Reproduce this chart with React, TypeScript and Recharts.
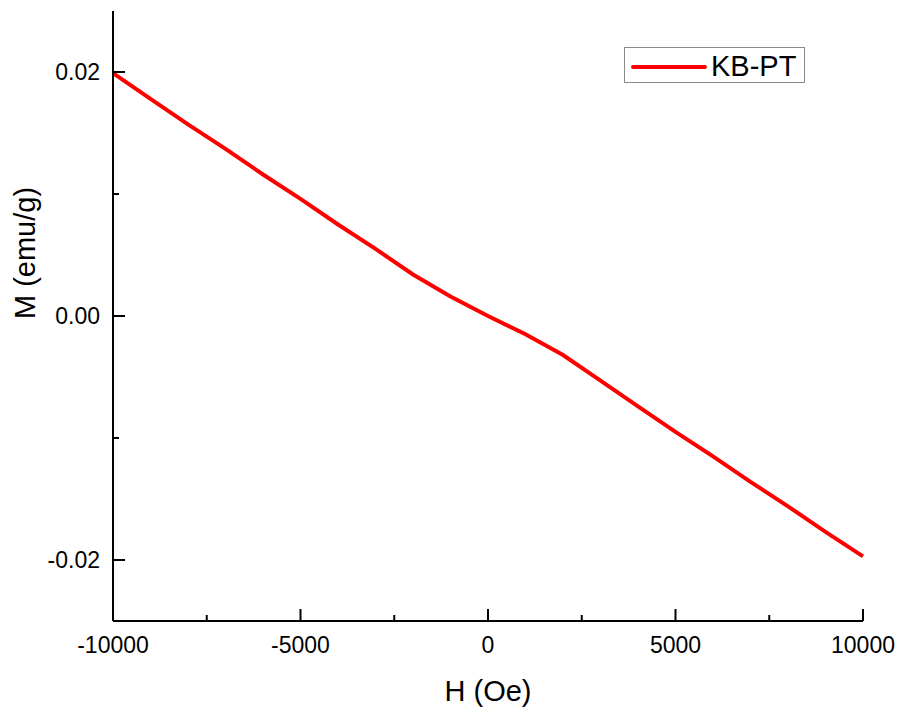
import { LineChart, Line, XAxis, YAxis, Label } from 'recharts';

// magnetisation loop, H in Oe, M in emu/g
const fieldH = [
  -10000, -9000, -8000, -7000, -6000, -5000, -4000, -3000, -2000, -1000, 0,
  1000, 2000, 3000, 4000, 5000, 6000, 7000, 8000, 9000, 10000,
];
const momentM = [
  0.0199, 0.0178, 0.0157, 0.0137, 0.0116, 0.0096, 0.0075, 0.0055, 0.0034, 0.0016, 0.0,
  -0.0015, -0.0032, -0.0053, -0.0074, -0.0095, -0.0115, -0.0136, -0.0156, -0.0177, -0.0197,
];
const xTicks = [-10000, -7500, -5000, -2500, 0, 2500, 5000, 7500, 10000];
const yTicks = [-0.02, -0.01, 0, 0.01, 0.02];

const seriesName = 'KB-PT';
const font = 'Arial, "Liberation Sans", sans-serif';

const W = 904;
const H = 712;
const PLOT_LEFT = 113;
const PLOT_TOP = 11;
const PLOT_RIGHT = 863;
const PLOT_BOTTOM = 621;

const data = fieldH.map((h, i) => ({ h, m: momentM[i] }));

function XTick(props: any) {
  const { x, payload } = props;
  const major = payload.value % 5000 === 0;
  const y = PLOT_BOTTOM;
  return (
    <g>
      <line x1={x} x2={x} y1={y} y2={y - (major ? 12 : 6)} stroke="#000" strokeWidth={2} />
      {major && (
        <text x={x} y={y + 32} textAnchor="middle" fontSize={23} fontFamily={font} fill="#000">
          {payload.value}
        </text>
      )}
    </g>
  );
}

function YTick(props: any) {
  const { y, payload } = props;
  const major = Math.round(payload.value * 100) % 2 === 0;
  const x = PLOT_LEFT;
  return (
    <g>
      <line x1={x} x2={x + (major ? 12 : 6)} y1={y} y2={y} stroke="#000" strokeWidth={2} />
      {major && (
        <text x={x - 13} y={y + 8} textAnchor="end" fontSize={23} fontFamily={font} fill="#000">
          {payload.value.toFixed(2)}
        </text>
      )}
    </g>
  );
}

function LegendBox() {
  return (
    <div
      style={{
        position: 'absolute',
        left: 624,
        top: 47,
        width: 179,
        height: 34,
        border: '1px solid #8a8a8a',
        background: '#fff',
        display: 'flex',
        alignItems: 'center',
        fontFamily: font,
      }}
    >
      <svg width={86} height={34}>
        <line x1={8} x2={80} y1={19} y2={19} stroke="#ff0000" strokeWidth={4} strokeLinecap="round" />
      </svg>
      <span style={{ fontSize: 29, lineHeight: '34px', marginTop: 2 }}>{seriesName}</span>
    </div>
  );
}

export default function App() {
  return (
    <div style={{ position: 'absolute', left: 0, top: 0, width: W, height: H, background: '#fff' }}>
      <LineChart
        width={W}
        height={H}
        data={data}
        margin={{ top: PLOT_TOP, right: W - PLOT_RIGHT, left: 0, bottom: 0 }}
      >
        <XAxis
          xAxisId="b"
          dataKey="h"
          type="number"
          domain={[-10000, 10000]}
          ticks={xTicks}
          height={H - PLOT_BOTTOM}
          tickSize={0}
          tickMargin={0}
          tickLine={false}
          tick={<XTick />}
          axisLine={{ stroke: '#000', strokeWidth: 2 }}
          interval={0}
        >
          <Label
            content={() => (
              <text x={(PLOT_LEFT + PLOT_RIGHT) / 2} y={701} textAnchor="middle" fontSize={29} fontFamily={font} fill="#000">
                H (Oe)
              </text>
            )}
          />
        </XAxis>
        <XAxis xAxisId="t" dataKey="h" type="number" domain={[-10000, 10000]} orientation="top" height={0} tick={false} tickLine={false} axisLine={{ stroke: '#000', strokeWidth: 2 }} />
        <YAxis
          yAxisId="l"
          type="number"
          domain={[-0.025, 0.025]}
          ticks={yTicks}
          width={PLOT_LEFT}
          tickSize={0}
          tickMargin={0}
          tickLine={false}
          tick={<YTick />}
          axisLine={{ stroke: '#000', strokeWidth: 2 }}
          interval={0}
        >
          <Label
            content={() => (
              <text
                x={35}
                y={253}
                transform="rotate(-90, 35, 253)"
                textAnchor="middle"
                fontSize={29}
                fontFamily={font}
                fill="#000"
              >
                M (emu/g)
              </text>
            )}
          />
        </YAxis>
        <YAxis yAxisId="r" type="number" domain={[-0.025, 0.025]} orientation="right" width={0} tick={false} tickLine={false} axisLine={{ stroke: '#000', strokeWidth: 2 }} />
        <Line
          xAxisId="b"
          yAxisId="l"
          dataKey="m"
          name={seriesName}
          stroke="#ff0000"
          strokeWidth={4}
          dot={false}
          type="linear"
          isAnimationActive={false}
        />
      </LineChart>
      <LegendBox />
    </div>
  );
}
